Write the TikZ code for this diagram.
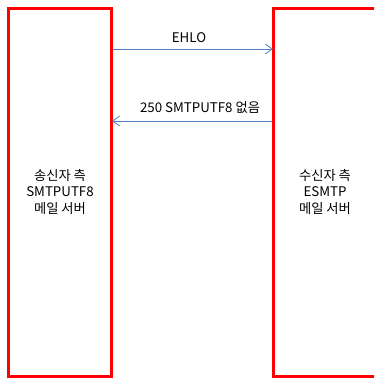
\documentclass[tikz,border=0pt]{standalone}
\usepackage{fontspec}
\setmainfont{Noto Sans CJK KR}
\usetikzlibrary{arrows.meta}
\begin{document}
\begin{tikzpicture}[x=1pt,y=-1pt,
  server/.style={draw=red,line width=3pt,fill=none},
  msg/.style={draw={rgb,255:red,79;green,129;blue,189},line width=0.8pt,-{Straight Barb[length=7pt,width=10pt]}},
  lbl/.style={font=\fontsize{13.3}{16.5}\selectfont,align=center,inner sep=0pt}]
\useasboundingbox (0,0) rectangle (374,379);
\begin{scope}
\clip (0,0) rectangle (374,379);
\draw[server] (8,9) rectangle (111,376);
\draw[server] (273,9) rectangle (400,376);
\end{scope}
\node[lbl] (sl) at (60,192) {송신자 측\\SMTPUTF8\\메일 서버};
\node[lbl] (rl) at (325,192) {수신자 측\\ESMTP\\메일 서버};
\coordinate (a1) at (113,49);
\coordinate (b1) at (273,49);
\coordinate (a2) at (272,121);
\coordinate (b2) at (112,121);
\draw[msg] (a1) -- node[lbl,above=6pt,xshift=-4pt] (t1) {EHLO} (b1);
\draw[msg] (a2) -- node[lbl,above=7pt,xshift=8pt] (t2) {250 SMTPUTF8 없음} (b2);
\end{tikzpicture}
\end{document}
